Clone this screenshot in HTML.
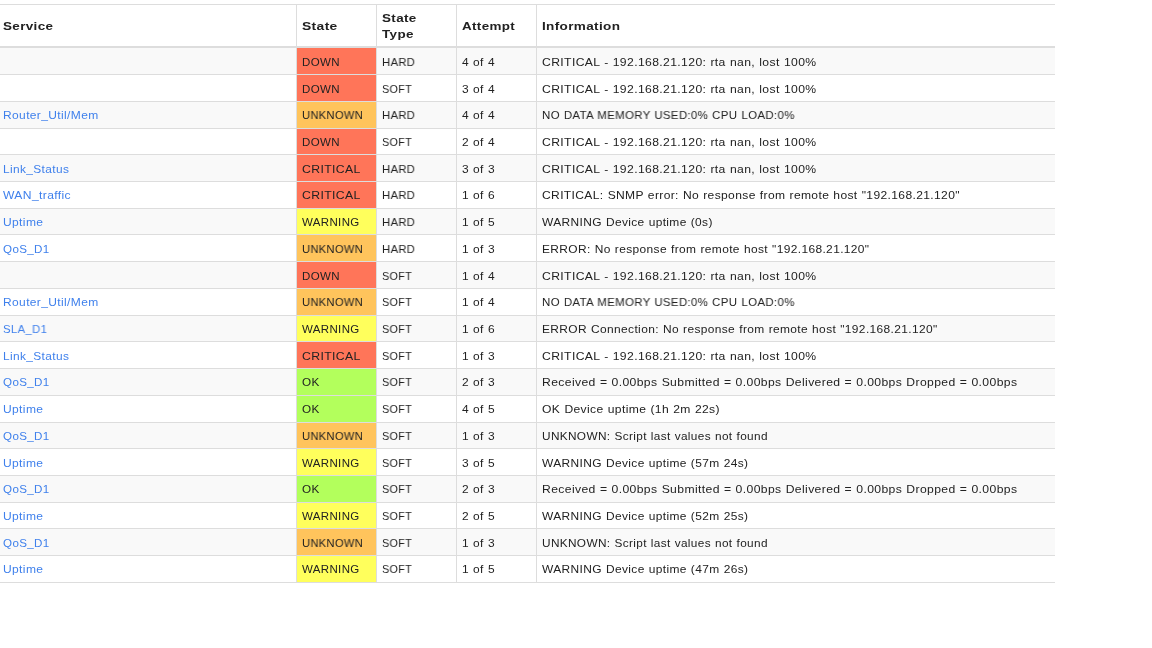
<!DOCTYPE html>
<html><head><meta charset="utf-8"><style>
html,body{margin:0;padding:0;background:#fff;width:1152px;height:648px;overflow:hidden}
body{position:relative;font-family:"Liberation Sans",sans-serif;font-size:11.5px;letter-spacing:0.35px;word-spacing:0.4px;color:#222}
.hl{position:absolute;left:0;width:1055px;height:1px;background:#ddd}
.vl{position:absolute;width:1px;background:#ddd}
.bg{position:absolute;left:0;width:1055px}
.st{position:absolute;left:297px;width:79px}
.t{position:absolute;white-space:nowrap;line-height:13px;height:13px;transform-origin:0 0;will-change:transform}
.h{position:absolute;white-space:nowrap;will-change:transform;font-weight:bold;font-size:11.5px;letter-spacing:0.3px;line-height:16px;color:#222;transform-origin:0 0}
.l{color:#3f80ec}
</style></head><body>

<div class="hl" style="top:4px"></div>
<div class="hl" style="top:46px;height:2px;background:#ddd"></div>
<div class="h" style="left:3px;top:18px;transform:scaleX(1.1710)">Service</div>
<div class="h" style="left:302px;top:18px;transform:scaleX(1.2048)">State</div>
<div class="h" style="left:382px;top:10px;transform:scaleX(1.1698)">State<br>Type</div>
<div class="h" style="left:462px;top:18px;transform:scaleX(1.1667)">Attempt</div>
<div class="h" style="left:542px;top:18px;transform:scaleX(1.1759)">Information</div>
<div class="bg" style="top:48px;height:26px;background:#f9f9f9"></div>
<div class="st" style="top:48px;height:26px;background:#ff7559"></div>
<div class="hl" style="top:74px"></div>
<div class="t" style="left:302px;top:56px;transform:scaleX(0.9894)">DOWN</div>
<div class="t" style="left:382px;top:56px;transform:scaleX(0.9769)">HARD</div>
<div class="t" style="left:462px;top:56px;transform:scaleX(1.0390)">4 of 4</div>
<div class="t" style="left:542px;top:56px;transform:scaleX(1.0583)">CRITICAL - 192.168.21.120: rta nan, lost 100%</div>
<div class="st" style="top:75px;height:26px;background:#ff7559"></div>
<div class="hl" style="top:101px"></div>
<div class="t" style="left:302px;top:83px;transform:scaleX(0.9894)">DOWN</div>
<div class="t" style="left:382px;top:83px;transform:scaleX(0.9369)">SOFT</div>
<div class="t" style="left:462px;top:83px;transform:scaleX(1.0390)">3 of 4</div>
<div class="t" style="left:542px;top:83px;transform:scaleX(1.0583)">CRITICAL - 192.168.21.120: rta nan, lost 100%</div>
<div class="bg" style="top:102px;height:26px;background:#f9f9f9"></div>
<div class="st" style="top:102px;height:26px;background:#ffc45c"></div>
<div class="hl" style="top:128px"></div>
<div class="t l" style="left:3px;top:109px;transform:scaleX(1.0443)">Router_Util/Mem</div>
<div class="t" style="left:302px;top:109px;transform:scaleX(0.9679)">UNKNOWN</div>
<div class="t" style="left:382px;top:109px;transform:scaleX(0.9769)">HARD</div>
<div class="t" style="left:462px;top:109px;transform:scaleX(1.0390)">4 of 4</div>
<div class="t" style="left:542px;top:109px;transform:scaleX(0.9947)">NO DATA MEMORY USED:0% CPU LOAD:0%</div>
<div class="st" style="top:129px;height:25px;background:#ff7559"></div>
<div class="hl" style="top:154px"></div>
<div class="t" style="left:302px;top:136px;transform:scaleX(0.9894)">DOWN</div>
<div class="t" style="left:382px;top:136px;transform:scaleX(0.9369)">SOFT</div>
<div class="t" style="left:462px;top:136px;transform:scaleX(1.0390)">2 of 4</div>
<div class="t" style="left:542px;top:136px;transform:scaleX(1.0583)">CRITICAL - 192.168.21.120: rta nan, lost 100%</div>
<div class="bg" style="top:155px;height:26px;background:#f9f9f9"></div>
<div class="st" style="top:155px;height:26px;background:#ff7559"></div>
<div class="hl" style="top:181px"></div>
<div class="t l" style="left:3px;top:163px;transform:scaleX(1.0360)">Link_Status</div>
<div class="t" style="left:302px;top:163px;transform:scaleX(1.0630)">CRITICAL</div>
<div class="t" style="left:382px;top:163px;transform:scaleX(0.9769)">HARD</div>
<div class="t" style="left:462px;top:163px;transform:scaleX(1.0390)">3 of 3</div>
<div class="t" style="left:542px;top:163px;transform:scaleX(1.0583)">CRITICAL - 192.168.21.120: rta nan, lost 100%</div>
<div class="st" style="top:182px;height:26px;background:#ff7559"></div>
<div class="hl" style="top:208px"></div>
<div class="t l" style="left:3px;top:189px;transform:scaleX(1.0532)">WAN_traffic</div>
<div class="t" style="left:302px;top:189px;transform:scaleX(1.0630)">CRITICAL</div>
<div class="t" style="left:382px;top:189px;transform:scaleX(0.9769)">HARD</div>
<div class="t" style="left:462px;top:189px;transform:scaleX(1.0390)">1 of 6</div>
<div class="t" style="left:542px;top:189px;transform:scaleX(1.0474)">CRITICAL: SNMP error: No response from remote host &quot;192.168.21.120&quot;</div>
<div class="bg" style="top:209px;height:25px;background:#f9f9f9"></div>
<div class="st" style="top:209px;height:25px;background:#ffff5c"></div>
<div class="hl" style="top:234px"></div>
<div class="t l" style="left:3px;top:216px;transform:scaleX(1.0470)">Uptime</div>
<div class="t" style="left:302px;top:216px;transform:scaleX(0.9922)">WARNING</div>
<div class="t" style="left:382px;top:216px;transform:scaleX(0.9769)">HARD</div>
<div class="t" style="left:462px;top:216px;transform:scaleX(1.0390)">1 of 5</div>
<div class="t" style="left:542px;top:216px;transform:scaleX(1.0382)">WARNING Device uptime (0s)</div>
<div class="st" style="top:235px;height:26px;background:#ffc45c"></div>
<div class="hl" style="top:261px"></div>
<div class="t l" style="left:3px;top:243px;transform:scaleX(1.0098)">QoS_D1</div>
<div class="t" style="left:302px;top:243px;transform:scaleX(0.9679)">UNKNOWN</div>
<div class="t" style="left:382px;top:243px;transform:scaleX(0.9769)">HARD</div>
<div class="t" style="left:462px;top:243px;transform:scaleX(1.0390)">1 of 3</div>
<div class="t" style="left:542px;top:243px;transform:scaleX(1.0391)">ERROR: No response from remote host &quot;192.168.21.120&quot;</div>
<div class="bg" style="top:262px;height:26px;background:#f9f9f9"></div>
<div class="st" style="top:262px;height:26px;background:#ff7559"></div>
<div class="hl" style="top:288px"></div>
<div class="t" style="left:302px;top:270px;transform:scaleX(0.9894)">DOWN</div>
<div class="t" style="left:382px;top:270px;transform:scaleX(0.9369)">SOFT</div>
<div class="t" style="left:462px;top:270px;transform:scaleX(1.0390)">1 of 4</div>
<div class="t" style="left:542px;top:270px;transform:scaleX(1.0583)">CRITICAL - 192.168.21.120: rta nan, lost 100%</div>
<div class="st" style="top:289px;height:26px;background:#ffc45c"></div>
<div class="hl" style="top:315px"></div>
<div class="t l" style="left:3px;top:296px;transform:scaleX(1.0443)">Router_Util/Mem</div>
<div class="t" style="left:302px;top:296px;transform:scaleX(0.9679)">UNKNOWN</div>
<div class="t" style="left:382px;top:296px;transform:scaleX(0.9369)">SOFT</div>
<div class="t" style="left:462px;top:296px;transform:scaleX(1.0390)">1 of 4</div>
<div class="t" style="left:542px;top:296px;transform:scaleX(0.9947)">NO DATA MEMORY USED:0% CPU LOAD:0%</div>
<div class="bg" style="top:316px;height:25px;background:#f9f9f9"></div>
<div class="st" style="top:316px;height:25px;background:#ffff5c"></div>
<div class="hl" style="top:341px"></div>
<div class="t l" style="left:3px;top:323px;transform:scaleX(0.9848)">SLA_D1</div>
<div class="t" style="left:302px;top:323px;transform:scaleX(0.9922)">WARNING</div>
<div class="t" style="left:382px;top:323px;transform:scaleX(0.9369)">SOFT</div>
<div class="t" style="left:462px;top:323px;transform:scaleX(1.0390)">1 of 6</div>
<div class="t" style="left:542px;top:323px;transform:scaleX(1.0390)">ERROR Connection: No response from remote host &quot;192.168.21.120&quot;</div>
<div class="st" style="top:342px;height:26px;background:#ff7559"></div>
<div class="hl" style="top:368px"></div>
<div class="t l" style="left:3px;top:350px;transform:scaleX(1.0360)">Link_Status</div>
<div class="t" style="left:302px;top:350px;transform:scaleX(1.0630)">CRITICAL</div>
<div class="t" style="left:382px;top:350px;transform:scaleX(0.9369)">SOFT</div>
<div class="t" style="left:462px;top:350px;transform:scaleX(1.0390)">1 of 3</div>
<div class="t" style="left:542px;top:350px;transform:scaleX(1.0583)">CRITICAL - 192.168.21.120: rta nan, lost 100%</div>
<div class="bg" style="top:369px;height:26px;background:#f9f9f9"></div>
<div class="st" style="top:369px;height:26px;background:#b3ff5c"></div>
<div class="hl" style="top:395px"></div>
<div class="t l" style="left:3px;top:376px;transform:scaleX(1.0098)">QoS_D1</div>
<div class="t" style="left:302px;top:376px;transform:scaleX(1.0200)">OK</div>
<div class="t" style="left:382px;top:376px;transform:scaleX(0.9369)">SOFT</div>
<div class="t" style="left:462px;top:376px;transform:scaleX(1.0390)">2 of 3</div>
<div class="t" style="left:542px;top:376px;transform:scaleX(1.0585)">Received = 0.00bps Submitted = 0.00bps Delivered = 0.00bps Dropped = 0.00bps</div>
<div class="st" style="top:396px;height:26px;background:#b3ff5c"></div>
<div class="hl" style="top:422px"></div>
<div class="t l" style="left:3px;top:403px;transform:scaleX(1.0470)">Uptime</div>
<div class="t" style="left:302px;top:403px;transform:scaleX(1.0200)">OK</div>
<div class="t" style="left:382px;top:403px;transform:scaleX(0.9369)">SOFT</div>
<div class="t" style="left:462px;top:403px;transform:scaleX(1.0390)">4 of 5</div>
<div class="t" style="left:542px;top:403px;transform:scaleX(1.0526)">OK Device uptime (1h 2m 22s)</div>
<div class="bg" style="top:423px;height:25px;background:#f9f9f9"></div>
<div class="st" style="top:423px;height:25px;background:#ffc45c"></div>
<div class="hl" style="top:448px"></div>
<div class="t l" style="left:3px;top:430px;transform:scaleX(1.0098)">QoS_D1</div>
<div class="t" style="left:302px;top:430px;transform:scaleX(0.9679)">UNKNOWN</div>
<div class="t" style="left:382px;top:430px;transform:scaleX(0.9369)">SOFT</div>
<div class="t" style="left:462px;top:430px;transform:scaleX(1.0390)">1 of 3</div>
<div class="t" style="left:542px;top:430px;transform:scaleX(1.0259)">UNKNOWN: Script last values not found</div>
<div class="st" style="top:449px;height:26px;background:#ffff5c"></div>
<div class="hl" style="top:475px"></div>
<div class="t l" style="left:3px;top:457px;transform:scaleX(1.0470)">Uptime</div>
<div class="t" style="left:302px;top:457px;transform:scaleX(0.9922)">WARNING</div>
<div class="t" style="left:382px;top:457px;transform:scaleX(0.9369)">SOFT</div>
<div class="t" style="left:462px;top:457px;transform:scaleX(1.0390)">3 of 5</div>
<div class="t" style="left:542px;top:457px;transform:scaleX(1.0388)">WARNING Device uptime (57m 24s)</div>
<div class="bg" style="top:476px;height:26px;background:#f9f9f9"></div>
<div class="st" style="top:476px;height:26px;background:#b3ff5c"></div>
<div class="hl" style="top:502px"></div>
<div class="t l" style="left:3px;top:483px;transform:scaleX(1.0098)">QoS_D1</div>
<div class="t" style="left:302px;top:483px;transform:scaleX(1.0200)">OK</div>
<div class="t" style="left:382px;top:483px;transform:scaleX(0.9369)">SOFT</div>
<div class="t" style="left:462px;top:483px;transform:scaleX(1.0390)">2 of 3</div>
<div class="t" style="left:542px;top:483px;transform:scaleX(1.0585)">Received = 0.00bps Submitted = 0.00bps Delivered = 0.00bps Dropped = 0.00bps</div>
<div class="st" style="top:503px;height:25px;background:#ffff5c"></div>
<div class="hl" style="top:528px"></div>
<div class="t l" style="left:3px;top:510px;transform:scaleX(1.0470)">Uptime</div>
<div class="t" style="left:302px;top:510px;transform:scaleX(0.9922)">WARNING</div>
<div class="t" style="left:382px;top:510px;transform:scaleX(0.9369)">SOFT</div>
<div class="t" style="left:462px;top:510px;transform:scaleX(1.0390)">2 of 5</div>
<div class="t" style="left:542px;top:510px;transform:scaleX(1.0388)">WARNING Device uptime (52m 25s)</div>
<div class="bg" style="top:529px;height:26px;background:#f9f9f9"></div>
<div class="st" style="top:529px;height:26px;background:#ffc45c"></div>
<div class="hl" style="top:555px"></div>
<div class="t l" style="left:3px;top:537px;transform:scaleX(1.0098)">QoS_D1</div>
<div class="t" style="left:302px;top:537px;transform:scaleX(0.9679)">UNKNOWN</div>
<div class="t" style="left:382px;top:537px;transform:scaleX(0.9369)">SOFT</div>
<div class="t" style="left:462px;top:537px;transform:scaleX(1.0390)">1 of 3</div>
<div class="t" style="left:542px;top:537px;transform:scaleX(1.0259)">UNKNOWN: Script last values not found</div>
<div class="st" style="top:556px;height:26px;background:#ffff5c"></div>
<div class="hl" style="top:582px"></div>
<div class="t l" style="left:3px;top:563px;transform:scaleX(1.0470)">Uptime</div>
<div class="t" style="left:302px;top:563px;transform:scaleX(0.9922)">WARNING</div>
<div class="t" style="left:382px;top:563px;transform:scaleX(0.9369)">SOFT</div>
<div class="t" style="left:462px;top:563px;transform:scaleX(1.0390)">1 of 5</div>
<div class="t" style="left:542px;top:563px;transform:scaleX(1.0388)">WARNING Device uptime (47m 26s)</div>
<div class="vl" style="left:296px;top:5px;height:578px"></div>
<div class="vl" style="left:376px;top:5px;height:578px"></div>
<div class="vl" style="left:456px;top:5px;height:578px"></div>
<div class="vl" style="left:536px;top:5px;height:578px"></div>
</body></html>
